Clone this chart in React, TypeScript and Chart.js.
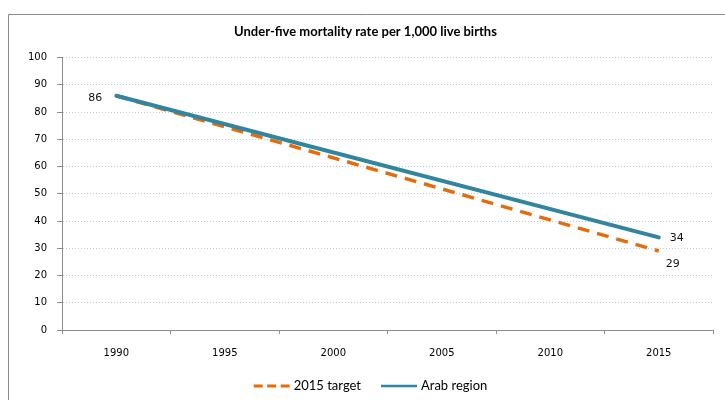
import React, { useEffect, useRef } from "react";
import { Chart, registerables } from "chart.js";

Chart.register(...registerables);

const chartTitle = "Under-five mortality rate per 1,000 live births";
const years = ["1990", "1995", "2000", "2005", "2010", "2015"];
const seriesNames = ["2015 target", "Arab region"];
const targetValues = [86, null, null, null, null, 29];
const arabValues = [86, null, null, null, null, 34];
const yMin = 0;
const yMax = 100;
const yStep = 10;
// which points carry a value label: [datasetIndex, pointIndex]
const labelledPoints = [
  [1, 0],
  [1, 5],
  [0, 5],
];

const TEAL = "#31859C";
const ORANGE = "#E46C0A";

const framePlugin = {
  id: "frame",
  beforeDraw(chart: any) {
    const { ctx, width, height } = chart;
    ctx.save();
    ctx.fillStyle = "#fff";
    ctx.fillRect(0, 0, width, height);
    ctx.strokeStyle = "#8c8c8c";
    ctx.lineWidth = 1;
    ctx.beginPath();
    ctx.moveTo(8.5, height);
    ctx.lineTo(8.5, 14.5);
    ctx.lineTo(width, 14.5);
    ctx.stroke();
    ctx.restore();
  },
};

const valueLabelPlugin = {
  id: "valueLabels",
  afterDatasetsDraw(chart: any) {
    const { ctx } = chart;
    ctx.save();
    ctx.font = "11px 'DejaVu Sans'";
    ctx.fillStyle = "#111";
    ctx.textBaseline = "middle";
    labelledPoints.forEach(([ds, idx]) => {
      const meta = chart.getDatasetMeta(ds);
      const pt = meta.data[idx];
      const v = chart.data.datasets[ds].data[idx];
      if (!pt || v == null) return;
      if (idx === 0) {
        ctx.textAlign = "right";
        ctx.fillText(String(v), pt.x - 14, pt.y + 2);
      } else if (ds === 1) {
        ctx.textAlign = "left";
        ctx.fillText(String(v), pt.x + 11, pt.y + 1);
      } else {
        ctx.textAlign = "left";
        ctx.fillText(String(v), pt.x + 7, pt.y + 13);
      }
    });
    ctx.restore();
  },
};

const legendPlugin = {
  id: "customLegend",
  afterDraw(chart: any) {
    const { ctx, width } = chart;
    const ds = chart.data.datasets;
    const lineW = 36;
    const gap = 4;
    const itemGap = 20;
    const y = 386;
    ctx.save();
    ctx.font = "13px Lato";
    ctx.textBaseline = "middle";
    const widths = ds.map((d: any) => lineW + gap + ctx.measureText(d.label).width);
    const total = widths.reduce((a: number, b: number) => a + b, 0) + itemGap * (ds.length - 1);
    let x = (width - total) / 2 + 8;
    ds.forEach((d: any, i: number) => {
      ctx.beginPath();
      ctx.strokeStyle = d.borderColor;
      ctx.lineWidth = i === 0 ? 3 : 2.5;
      ctx.setLineDash(i === 0 ? [9, 4.5] : []);
      ctx.moveTo(x, y);
      ctx.lineTo(x + lineW, y);
      ctx.stroke();
      ctx.setLineDash([]);
      ctx.fillStyle = "#000";
      ctx.textAlign = "left";
      ctx.fillText(d.label, x + lineW + gap, y);
      x += widths[i] + itemGap;
    });
    ctx.restore();
  },
};

export default function App() {
  const ref = useRef<HTMLCanvasElement | null>(null);

  useEffect(() => {
    if (!ref.current) return;
    const chart = new Chart(ref.current, {
      type: "line",
      data: {
        labels: years,
        datasets: [
          {
            label: seriesNames[0],
            data: targetValues,
            borderColor: ORANGE,
            backgroundColor: ORANGE,
            borderWidth: 3.5,
            borderDash: [12, 8],
            spanGaps: true,
            pointRadius: 0,
            order: 2,
          },
          {
            label: seriesNames[1],
            data: arabValues,
            borderColor: TEAL,
            backgroundColor: TEAL,
            borderWidth: 4,
            borderCapStyle: "round",
            spanGaps: true,
            pointRadius: 0,
            order: 1,
          },
        ],
      } as any,
      options: {
        animation: false,
        responsive: false,
        layout: { padding: { left: 18, right: 12, top: 16, bottom: 28 } },
        plugins: {
          title: {
            display: true,
            text: chartTitle,
            color: "#000",
            font: { family: "Lato", weight: "bold", size: 13 },
            padding: { top: 8, bottom: 18 },
          },
          legend: { display: false },
          tooltip: { enabled: false },
        },
        scales: {
          x: {
            offset: true,
            grid: {
              display: true,
              drawOnChartArea: false,
              offset: true,
              tickLength: 4,
              color: "#8c8c8c",
            },
            border: { color: "#8c8c8c" },
            ticks: {
              color: "#000",
              font: { family: "DejaVu Sans", size: 10 },
              padding: 13,
              maxRotation: 0,
            },
          },
          y: {
            min: yMin,
            max: yMax,
            ticks: {
              stepSize: yStep,
              color: "#000",
              font: { family: "DejaVu Sans", size: 10 },
              padding: 10,
            },
            grid: {
              color: "#b8cbe3",
              tickLength: 5,
              tickColor: "#8c8c8c",
              tickBorderDash: [],
            },
            border: { color: "#8c8c8c", dash: [1, 2] },
          },
        },
      },
      plugins: [framePlugin, valueLabelPlugin, legendPlugin],
    } as any);
    return () => chart.destroy();
  }, []);

  return (
    <div style={{ position: "absolute", left: 0, top: 0, width: 725, height: 400 }}>
      <canvas ref={ref} width={725} height={400} style={{ display: "block" }} />
    </div>
  );
}
